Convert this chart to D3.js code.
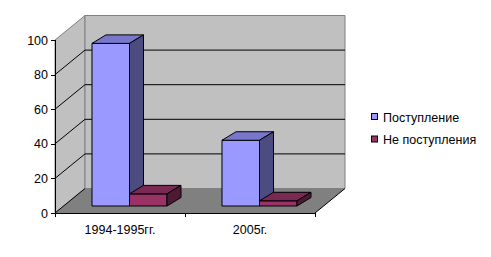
<!DOCTYPE html>
<html><head><meta charset="utf-8">
<script src="https://cdn.jsdelivr.net/npm/d3@7"></script>
<style>body{margin:0;background:#fff;} svg{display:block;} text{font-family:"Liberation Sans",Arial,sans-serif;font-size:12.5px;fill:#000;}</style>
</head><body>
<svg id="c" width="491" height="257"></svg>
<script>
const categories = ["1994-1995гг.", "2005г."];
const seriesNames = ["Поступление", "Не поступления"];
const postuplenie = [94, 38];
const nePostupleniya = [7, 3];
const yTicks = [0, 20, 40, 60, 80, 100];

const svg = d3.select("#c");
const X0 = 55, X1 = 315, YB = 213, YT = 40;
const DX = 30, DY = -24.5;          // wall depth
const BOFF_X = 9.5, BOFF_Y = -7;    // bar front plane offset
const BDX = 14, BDY = -8.5;         // bar depth

const y = d3.scaleLinear().domain([0, 100]).range([YB, YT]);
const x = d3.scaleBand().domain(categories).range([X0, X1]).paddingInner(0.423).paddingOuter(0.2115);
const xs = d3.scaleBand().domain(seriesNames).range([0, x.bandwidth()]);

const colors = [
  {front: "#9999FF", top: "#7777CC", side: "#4C4C80"},
  {front: "#993366", top: "#7A2952", side: "#4C1A33"}
];

// walls
svg.append("polygon").attr("points", [[X0,YB],[X0,YT],[X0+DX,YT+DY],[X0+DX,YB+DY]].join(" "))
  .attr("fill", "#C0C0C0").attr("stroke", "#808080");
svg.append("polygon").attr("points", [[X0+DX,YT+DY],[X1+DX,YT+DY],[X1+DX,YB+DY],[X0+DX,YB+DY]].join(" "))
  .attr("fill", "#C0C0C0").attr("stroke", "#808080");
svg.append("polygon").attr("points", [[X0,YB],[X0+DX,YB+DY],[X1+DX,YB+DY],[X1,YB]].join(" "))
  .attr("fill", "#808080");

// gridlines
const grid = yTicks.filter(v => v > 0 && v < 100);
svg.selectAll(".gb").data(grid).join("line")
  .attr("x1", X0+DX).attr("x2", X1+DX).attr("y1", d => y(d)+DY).attr("y2", d => y(d)+DY)
  .attr("stroke", "#000");
svg.selectAll(".gs").data(grid.concat([0])).join("line")
  .attr("x1", X0).attr("x2", X0+DX).attr("y1", d => y(d)).attr("y2", d => y(d)+DY)
  .attr("stroke", "#000");
svg.append("line").attr("x1", X1).attr("y1", YB).attr("x2", X1+DX).attr("y2", YB+DY).attr("stroke", "#000");

// axes
svg.append("line").attr("x1", X0+0.5).attr("x2", X0+0.5).attr("y1", YT).attr("y2", YB).attr("stroke", "#000");
svg.selectAll(".yt").data(yTicks).join("line")
  .attr("x1", X0-4).attr("x2", X0).attr("y1", d => Math.round(y(d))+0.5).attr("y2", d => Math.round(y(d))+0.5).attr("stroke", "#000");
svg.selectAll(".yl").data(yTicks).join("text")
  .attr("x", X0-7).attr("y", d => y(d)).attr("dy", "0.36em").attr("text-anchor", "end").text(d => d);
svg.append("line").attr("x1", X0).attr("x2", X1).attr("y1", YB+0.5).attr("y2", YB+0.5).attr("stroke", "#000");
const xt = [X0].concat(categories.map(c => x(c) + x.bandwidth()/2 + x.step()/2));
svg.selectAll(".xt").data(xt).join("line")
  .attr("x1", d => Math.round(d)+0.5).attr("x2", d => Math.round(d)+0.5).attr("y1", YB).attr("y2", YB+4).attr("stroke", "#000");
svg.selectAll(".xl").data(categories).join("text")
  .attr("x", d => x(d) + x.bandwidth()/2).attr("y", 234).attr("text-anchor", "middle").text(d => d);

// bars
const yBar = v => y(v) + BOFF_Y;
const bars = [];
categories.forEach((c, i) => {
  [postuplenie[i], nePostupleniya[i]].forEach((v, s) => {
    bars.push({x: x(c) + xs(seriesNames[s]) + BOFF_X, w: xs.bandwidth(), v, s});
  });
});
bars.forEach(b => {
  const g = svg.append("g").attr("stroke", "#000").attr("stroke-width", 1).attr("stroke-linejoin", "round");
  const yt = yBar(b.v), yb = yBar(0), x0 = b.x, x1 = b.x + b.w;
  g.append("polygon").attr("points", [[x0,yt],[x0,yb],[x1,yb],[x1,yt]].join(" ")).attr("fill", colors[b.s].front);
  g.append("polygon").attr("points", [[x0,yt],[x0+BDX,yt+BDY],[x1+BDX,yt+BDY],[x1,yt]].join(" ")).attr("fill", colors[b.s].top);
  g.append("polygon").attr("points", [[x1,yt],[x1+BDX,yt+BDY],[x1+BDX,yb+BDY],[x1,yb]].join(" ")).attr("fill", colors[b.s].side);
});

// legend
const lg = svg.append("g");
seriesNames.forEach((n, i) => {
  const cy = 117 + i * 22.5;
  lg.append("rect").attr("x", 371.5).attr("y", cy - 3.5).attr("width", 6).attr("height", 6)
    .attr("fill", colors[i].front).attr("stroke", "#000");
  lg.append("text").attr("x", 383).attr("y", cy).attr("dy", "0.36em").text(n);
});
</script>
</body></html>
